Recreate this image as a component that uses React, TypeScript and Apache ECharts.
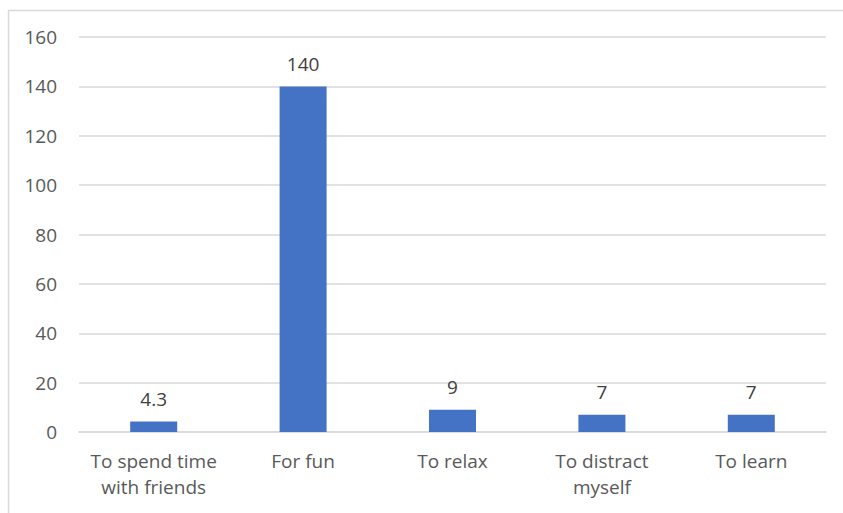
import React, { useEffect, useRef } from "react";
import * as echarts from "echarts";

const categories = [
  "To spend time\nwith friends",
  "For fun",
  "To relax",
  "To distract\nmyself",
  "To learn",
];
const values = [4.3, 140, 9, 7, 7];
const yTicks = { min: 0, max: 160, interval: 20 };

const FONT = "'Open Sans', 'Liberation Sans', sans-serif";

export default function App() {
  const ref = useRef<HTMLDivElement>(null);

  useEffect(() => {
    document.body.style.margin = "0";
    const chart = echarts.init(ref.current!, null, { renderer: "svg" });
    chart.setOption({
      animation: false,
      backgroundColor: "#ffffff",
      graphic: [
        {
          type: "rect",
          shape: { x: 8.5, y: 10.5, width: 860, height: 520 },
          style: { fill: "none", stroke: "#D9D9D9", lineWidth: 1.5 },
          silent: true,
        },
      ],
      grid: { left: 79, right: 17, top: 37, bottom: 81, containLabel: false },
      xAxis: {
        type: "category",
        data: categories,
        axisLine: { lineStyle: { color: "#D9D9D9", width: 1.5 } },
        axisTick: { show: false },
        axisLabel: {
          color: "#595959",
          fontSize: 19,
          fontFamily: FONT,
          lineHeight: 26,
          margin: 16,
          interval: 0,
        },
      },
      yAxis: {
        type: "value",
        min: yTicks.min,
        max: yTicks.max,
        interval: yTicks.interval,
        axisLine: { show: false },
        axisTick: { show: false },
        splitLine: { lineStyle: { color: "#D9D9D9", width: 1.5 } },
        axisLabel: {
          color: "#595959",
          fontSize: 19,
          fontFamily: FONT,
          margin: 22,
        },
      },
      series: [
        {
          type: "bar",
          data: values,
          barWidth: 47,
          itemStyle: { color: "#4472C4" },
          label: {
            show: true,
            position: "top",
            distance: 13,
            color: "#404040",
            fontSize: 19,
            fontFamily: FONT,
          },
        },
      ],
    });
    return () => chart.dispose();
  }, []);

  return <div ref={ref} style={{ width: 843, height: 513 }} />;
}
